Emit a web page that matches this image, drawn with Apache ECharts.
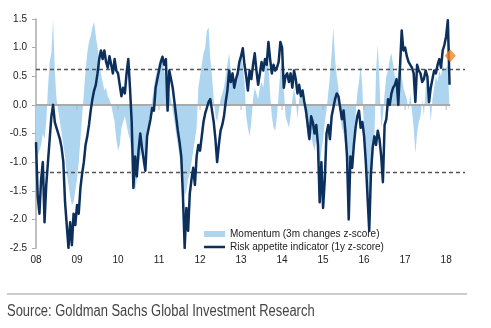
<!DOCTYPE html>
<html><head><meta charset="utf-8">
<script src="https://cdn.jsdelivr.net/npm/echarts@6/dist/echarts.min.js"></script>
<style>html,body{margin:0;padding:0;background:#fff}#c{width:491px;height:328px}</style>
</head><body><div id="c"></div>
<script>
// x tick years and labels
const yearTicks = [2008, 2009, 2010, 2011, 2012, 2013, 2014, 2015, 2016, 2017, 2018];
const tickLabels = ['08', '09', '10', '11', '12', '13', '14', '15', '16', '17', '18'];
const yTicks = [-2.5, -2.0, -1.5, -1.0, -0.5, 0.0, 0.5, 1.0, 1.5];

// semi-monthly observations starting Jan 2008
const startYear = 2008;
const stepsPerYear = 24;

// Risk appetite indicator (1y z-score)
const riskAppetite = [
  // 2008
  -0.65,-1.6,-1.9,-1.3,-1.0,-2.05,-1.4,-1.0,-0.6,-0.2,0.0,-0.3,-0.4,-0.5,-0.6,-0.75,-1.0,-1.7,-2.1,-2.5,-2.05,-2.45,-1.9,-2.1,
  // 2009
  -1.75,-1.9,-1.45,-1.2,-1.0,-0.7,-0.55,-0.35,-0.1,0.1,0.25,0.35,0.55,0.8,0.95,0.8,0.95,0.75,0.65,0.85,0.7,0.55,0.8,0.6,
  // 2010
  0.55,0.35,0.15,0.3,0.2,0.55,0.8,0.3,-0.3,-1.45,-0.9,-1.25,-0.8,-0.5,-0.75,-0.95,-1.15,-0.55,-0.4,-0.25,-0.05,-0.1,0.3,0.45,
  // 2011
  0.6,0.75,0.84,0.7,0.8,-0.1,0.6,0.45,0.3,0.05,-0.2,-0.45,-0.65,-0.9,-1.6,-2.5,-1.8,-2.2,-1.55,-1.3,-1.1,-1.4,-0.9,-0.7,
  // 2012
  -0.8,-0.55,-0.3,-0.15,-0.05,0.05,0.1,-0.1,-0.3,-0.6,-1.0,-0.7,-0.45,-0.35,-0.2,0.05,0.25,0.6,0.4,0.55,0.3,0.45,0.55,0.75,
  // 2013
  0.85,0.99,0.7,0.5,0.25,0.6,0.45,0.7,0.9,0.6,0.35,0.55,0.75,0.6,0.8,0.7,1.1,0.8,0.55,0.7,0.6,0.65,0.75,1.1,
  // 2014
  1.0,0.3,0.5,0.55,0.4,0.55,0.3,0.6,0.45,0.2,0.35,0.15,0.25,0.05,-0.1,-0.35,-0.6,-0.2,-0.3,-0.5,-0.35,-0.7,-1.7,-1.0,
  // 2015
  -1.8,-1.3,-0.5,-0.35,-0.6,-0.2,-0.05,0.1,0.2,0.15,-0.05,-0.25,-0.1,-0.45,-0.9,-2.0,-0.9,-1.1,-0.7,-0.4,-0.2,-0.1,-0.4,-0.3,
  // 2016
  -0.55,-1.0,-1.6,-2.2,-1.2,-0.75,-0.55,-0.7,-0.45,-0.6,-0.9,-1.35,-0.35,-0.25,0.1,0.0,0.2,0.3,0.35,0.45,0.0,0.65,1.3,0.95,
  // 2017
  1.0,0.85,0.75,0.7,0.65,0.55,0.05,0.7,0.6,0.55,0.4,0.45,0.6,0.5,0.05,0.3,0.45,0.6,0.55,0.7,0.8,0.65,0.95,1.05,
  // 2018
  1.2,1.48,0.35
];

// Momentum (3m changes z-score)
const momentum = [
  // 2008
  -0.6,-0.9,-0.8,-0.7,-0.5,-0.6,-0.3,0.3,0.75,0.9,1.5,0.6,0.1,-0.1,-0.3,-0.5,-0.7,-0.9,-1.2,-1.4,-1.6,-1.75,-1.7,-1.5,
  // 2009
  -1.3,-1.0,-0.6,-0.2,0.2,0.6,0.9,1.1,1.2,1.35,1.45,1.2,1.0,0.8,0.55,0.4,0.25,0.3,0.15,0.1,0.0,-0.15,-0.3,-0.6,
  // 2010
  -0.8,-0.7,-0.4,-0.3,-0.2,-0.35,-0.5,-0.6,-0.9,-1.3,-1.5,-1.3,-1.1,-0.9,-0.8,-0.9,-1.0,-0.6,-0.35,-0.2,0.1,0.3,0.5,0.6,
  // 2011
  0.75,0.65,0.8,0.6,0.45,0.3,0.2,0.1,-0.1,-0.3,-0.5,-0.7,-0.9,-1.1,-1.4,-1.6,-1.5,-1.3,-1.2,-1.0,-0.8,-0.6,-0.4,0.3,
  // 2012
  0.5,0.7,0.9,1.0,1.3,1.35,0.8,0.5,0.1,-0.2,-0.3,-0.1,0.1,0.2,0.3,0.5,0.7,0.9,0.6,0.4,0.3,0.4,0.6,0.8,
  // 2013
  0.9,0.7,0.4,-0.2,-0.4,-0.55,-0.3,0.1,0.3,0.2,0.1,0.3,0.4,0.3,0.6,0.8,0.7,0.2,-0.2,-0.4,-0.45,-0.2,0.2,0.6,
  // 2014
  0.8,0.3,-0.2,-0.3,-0.4,-0.2,0.1,0.3,0.1,-0.25,0.1,0.2,0.1,-0.1,-0.3,-0.6,-0.4,-0.5,-0.7,-0.8,-0.6,-0.9,-1.1,-0.8,
  // 2015
  -0.6,-0.3,-0.1,0.2,0.5,0.9,1.35,0.8,0.5,0.3,-0.2,-0.4,-0.5,-0.7,-1.0,-1.4,-1.2,-0.9,-0.5,-0.2,0.2,0.4,0.7,0.3,
  // 2016
  -0.5,-1.0,-1.4,-1.8,-1.5,-1.0,-0.6,0.6,1.05,0.4,-0.4,-0.2,0.2,0.5,0.6,0.8,0.9,0.7,0.5,0.3,0.6,0.8,0.5,0.3,
  // 2017
  0.3,0.1,-0.1,0.2,-0.1,-0.4,-0.85,-0.5,-0.3,-0.2,0.1,-0.2,0.3,0.4,0.2,-0.3,0.1,0.3,0.5,0.4,0.6,0.5,0.7,0.6,
  // 2018
  0.6,0.7,-0.1
];

const dashedLevels = [0.63, -1.17];
const latestPoint = [2018.1, 0.86];
const seriesNames = ['Momentum (3m changes z-score)', 'Risk appetite indicator (1y z-score)'];
const xMin = 2008, xMax = 2018.46, dataEnd = 2018.1;

const dates = riskAppetite.map((_, i) => startYear + i / stepsPerYear);
const riskData = riskAppetite.map((v, i) => [dates[i], v]);
const momData = momentum.map((v, i) => [dates[i], v]);
const labelMap = {};
yearTicks.forEach((y, i) => { labelMap[y] = tickLabels[i]; });

const FONT = "'Liberation Sans', Arial, sans-serif";
const chart = echarts.init(document.getElementById('c'), null, { renderer: 'canvas' });
chart.setOption({
  animation: false,
  backgroundColor: '#ffffff',
  grid: { left: 36, right: 26, top: 19, bottom: 80, containLabel: false },
  xAxis: [{
    type: 'value', min: xMin, max: xMax, interval: 1,
    axisLine: { show: false }, axisTick: { show: false }, splitLine: { show: false },
    axisLabel: {
      margin: 7, color: '#222', fontSize: 10, fontFamily: FONT,
      formatter: v => (labelMap[v] !== undefined ? labelMap[v] : '')
    }
  }],
  yAxis: {
    type: 'value', min: yTicks[0], max: yTicks[yTicks.length - 1], interval: 0.5,
    axisLine: { show: true, onZero: false, lineStyle: { color: '#aaaaaa', width: 1.5 } },
    axisTick: { show: true, length: 4, lineStyle: { color: '#aaaaaa', width: 1 } },
    splitLine: { show: false },
    axisLabel: { margin: 9, color: '#222', fontSize: 10, fontFamily: FONT, formatter: v => v.toFixed(1) }
  },
  legend: {
    orient: 'vertical', left: 204, top: 228, padding: 0, itemWidth: 21, itemHeight: 6, itemGap: 1,
    textStyle: { fontSize: 10, color: '#222', fontFamily: FONT, lineHeight: 12 },
    data: [
      { name: seriesNames[0], icon: 'rect' },
      { name: seriesNames[1], icon: 'path://M0,0 H84 V10 H0 Z', itemStyle: { color: '#0c2f5c' } }
    ],
    selectedMode: false
  },
  series: [
    {
      name: seriesNames[0], type: 'line', data: momData, z: 1,
      symbol: 'none', showSymbol: false, color: '#aed5f0',
      itemStyle: { color: '#aed5f0' },
      lineStyle: { width: 0, color: '#aed5f0' },
      areaStyle: { color: '#aed5f0', opacity: 1, origin: 0 }
    },
    {
      name: 'refs', type: 'line', data: [], z: 2,
      markLine: {
        silent: true, symbol: 'none', label: { show: false }, animation: false,
        data: [
          [{ coord: [xMin, 0], lineStyle: { color: '#aaaaaa', width: 2, type: 'solid' } }, { coord: [dataEnd, 0] }],
          [{ coord: [xMin, dashedLevels[0]], lineStyle: { color: '#555555', width: 1.3, type: [4, 3] } }, { coord: [xMax, dashedLevels[0]] }],
          [{ coord: [xMin, dashedLevels[1]], lineStyle: { color: '#555555', width: 1.3, type: [4, 3] } }, { coord: [xMax, dashedLevels[1]] }]
        ]
      }
    },
    {
      name: 'ticks', type: 'scatter', z: 3, silent: true,
      data: yearTicks.slice(1).map(y => [y, 0]),
      symbol: 'rect', symbolSize: [1, 4], symbolOffset: [0, 3],
      itemStyle: { color: '#aaaaaa' }
    },
    {
      name: seriesNames[1], type: 'line', data: riskData, z: 10,
      symbol: 'none', showSymbol: false, color: '#0c2f5c',
      itemStyle: { color: '#0c2f5c' },
      lineStyle: { width: 2.5, color: '#0c2f5c', join: 'round' }
    },
    {
      name: 'latest', type: 'scatter', z: 12, silent: true,
      data: [latestPoint], symbol: 'diamond', symbolSize: [11, 13],
      itemStyle: { color: '#f5821f' }
    }
  ],
  graphic: [
    { type: 'line', shape: { x1: 7, y1: 294, x2: 467, y2: 294 }, style: { stroke: '#9a9a9a', lineWidth: 1 } },
    { type: 'text', x: 7, y: 304, scaleX: 0.81, scaleY: 1,
      style: { x: 0, y: 0, text: 'Source: Goldman Sachs Global Investment Research', fill: '#444',
               font: "16px 'Liberation Sans', Arial, sans-serif", textBaseline: 'top' } }
  ]
});
</script>
</body></html>
